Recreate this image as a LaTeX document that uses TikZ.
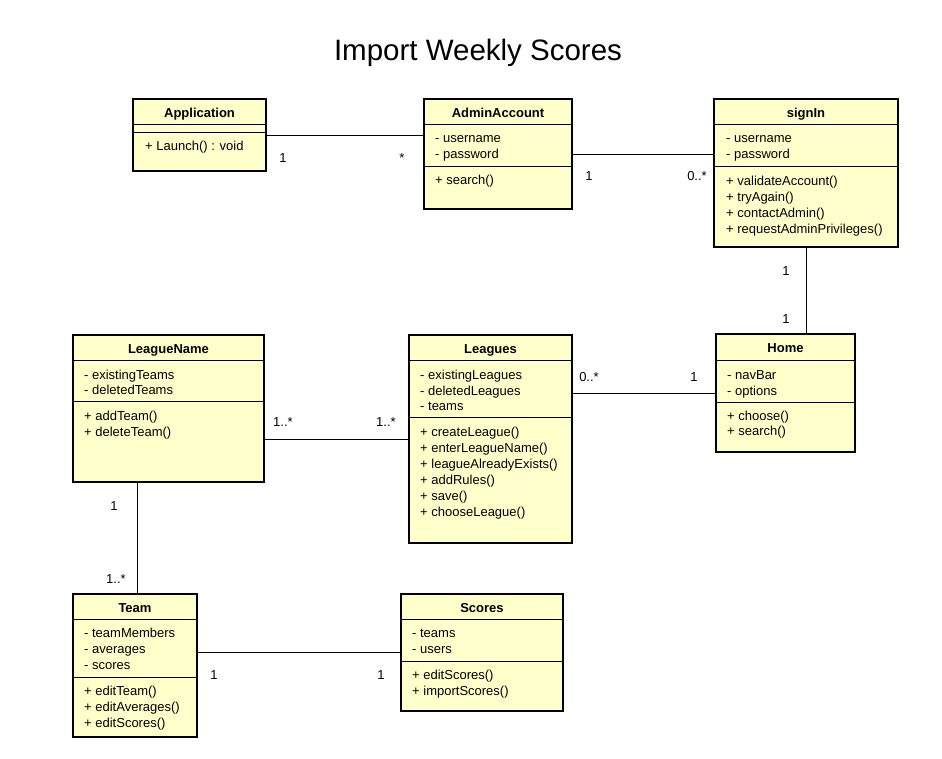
\documentclass[tikz,border=0pt]{standalone}
\usepackage{fontspec}
\setmainfont{Liberation Sans}
\definecolor{clsfill}{RGB}{255,255,204}
\tikzset{
  clsbox/.style={draw, line width=1.6pt, fill=clsfill, inner sep=0pt, outer sep=0pt, rectangle},
  clstitle/.style={font=\fontsize{13}{15}\selectfont\bfseries, inner sep=0pt, text height=9pt, text depth=2.5pt, yshift=-1.5pt},
  txt/.style={font=\fontsize{13}{15}\selectfont, inner sep=0pt, anchor=west, text height=9pt, text depth=2.5pt, yshift=-1.5pt},
  sepline/.style={line width=0.8pt},
  conn/.style={line width=0.8pt},
  mult/.style={font=\fontsize{13}{15}\selectfont, inner sep=0pt, anchor=base},
}
\newcommand{\umlclass}[6]{%
  \node[clsbox, minimum width={(#4-#2)*1pt}, minimum height={(#5-#3)*1pt}] (#1) at ({(#2+#4)/2},{(#3+#5)/2}) {};
  \node[clstitle] (#1-title) at ({(#2+#4)/2},{#3+14}) {#6};
}
\newcommand{\umlsep}[3]{\draw[sepline] (#1.west |- 0,#3) -- (#1.east |- 0,#3);}
\begin{document}
\begin{tikzpicture}[x=1pt,y=-1pt]
\useasboundingbox (0,0) rectangle (942,758);
\fill[white] (0,0) rectangle (942,758);

\node[font=\fontsize{29.5}{34}\selectfont, inner sep=0pt, anchor=base] (title) at (478,60) {Import Weekly Scores};

% Application
\umlclass{app}{133}{99}{266}{171}{Application}
\umlsep{app}{}{124}
\umlsep{app}{}{132}
\node[txt] (app-o1) at (145,146) {+ Launch() : void};

% AdminAccount
\umlclass{admin}{424}{99}{572}{209}{AdminAccount}
\umlsep{admin}{}{124}
\umlsep{admin}{}{166}
\node[txt] (admin-a1) at (435,138) {- username};
\node[txt] (admin-a2) at (435,154) {- password};
\node[txt] (admin-o1) at (435,180) {+ search()};

% signIn
\umlclass{signin}{714}{99}{898}{247}{signIn}
\umlsep{signin}{}{124}
\umlsep{signin}{}{166}
\node[txt] (signin-a1) at (726,138) {- username};
\node[txt] (signin-a2) at (726,154) {- password};
\node[txt] (signin-o1) at (726,181) {+ validateAccount()};
\node[txt] (signin-o2) at (726,197) {+ tryAgain()};
\node[txt] (signin-o3) at (726,213) {+ contactAdmin()};
\node[txt] (signin-o4) at (726,229) {+ requestAdminPrivileges()};

% Home
\umlclass{home}{716}{334}{855}{452}{Home}
\umlsep{home}{}{360}
\umlsep{home}{}{402}
\node[txt] (home-a1) at (727,375) {- navBar};
\node[txt] (home-a2) at (727,391) {- options};
\node[txt] (home-o1) at (727,416) {+ choose()};
\node[txt] (home-o2) at (727,431) {+ search()};

% Leagues
\umlclass{leagues}{409}{335}{572}{543}{Leagues}
\umlsep{leagues}{}{360}
\umlsep{leagues}{}{417}
\node[txt] (leagues-a1) at (420,375) {- existingLeagues};
\node[txt] (leagues-a2) at (420,391) {- deletedLeagues};
\node[txt] (leagues-a3) at (420,406) {- teams};
\node[txt] (leagues-o1) at (420,432) {+ createLeague()};
\node[txt] (leagues-o2) at (420,448) {+ enterLeagueName()};
\node[txt] (leagues-o3) at (420,464) {+ leagueAlreadyExists()};
\node[txt] (leagues-o4) at (420,480) {+ addRules()};
\node[txt] (leagues-o5) at (420,496) {+ save()};
\node[txt] (leagues-o6) at (420,512) {+ chooseLeague()};

% LeagueName
\umlclass{lname}{73}{335}{264}{482}{LeagueName}
\umlsep{lname}{}{360}
\umlsep{lname}{}{401}
\node[txt] (lname-a1) at (84,375) {- existingTeams};
\node[txt] (lname-a2) at (84,390) {- deletedTeams};
\node[txt] (lname-o1) at (84,416) {+ addTeam()};
\node[txt] (lname-o2) at (84,432) {+ deleteTeam()};

% Team
\umlclass{team}{73}{594}{197}{737}{Team}
\umlsep{team}{}{619}
\umlsep{team}{}{677}
\node[txt] (team-a1) at (84,633) {- teamMembers};
\node[txt] (team-a2) at (84,649) {- averages};
\node[txt] (team-a3) at (84,665) {- scores};
\node[txt] (team-o1) at (84,691) {+ editTeam()};
\node[txt] (team-o2) at (84,707) {+ editAverages()};
\node[txt] (team-o3) at (84,723) {+ editScores()};

% Scores
\umlclass{scores}{401}{594}{563}{711}{Scores}
\umlsep{scores}{}{619}
\umlsep{scores}{}{661}
\node[txt] (scores-a1) at (412,633) {- teams};
\node[txt] (scores-a2) at (412,649) {- users};
\node[txt] (scores-o1) at (412,675) {+ editScores()};
\node[txt] (scores-o2) at (412,691) {+ importScores()};

% connectors
\draw[conn] (app.east) -- (app.east -| admin.west);
\draw[conn] (admin.east) -- (admin.east -| signin.west);
\draw[conn] (signin.south) -- (signin.south |- home.north);
\draw[conn] (home.west) -- (home.west -| leagues.east);
\draw[conn] (leagues.west) -- (leagues.west -| lname.east);
\draw[conn] ([xshift=2pt]team.north) -- ([xshift=2pt]team.north |- lname.south);
\draw[conn] (scores.west) -- (scores.west -| team.east);

% multiplicities
\node[mult] (m1) at (283,162) {1};
\node[mult] (m2) at (402,162) {*};
\node[mult] (m3) at (589,180) {1};
\node[mult] (m4) at (697,180) {0..*};
\node[mult] (m5) at (786,275) {1};
\node[mult] (m6) at (786,323) {1};
\node[mult] (m7) at (589,381) {0..*};
\node[mult] (m8) at (694,381) {1};
\node[mult] (m9) at (283,426) {1..*};
\node[mult] (m10) at (386,426) {1..*};
\node[mult] (m11) at (114,510) {1};
\node[mult] (m12) at (116,583) {1..*};
\node[mult] (m13) at (214,679) {1};
\node[mult] (m14) at (381,679) {1};
\end{tikzpicture}
\end{document}
